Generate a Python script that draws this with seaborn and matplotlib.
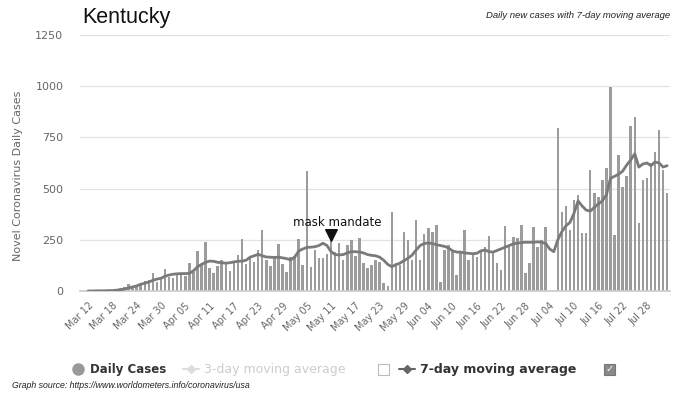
import matplotlib
matplotlib.use("Agg")
import matplotlib.pyplot as plt
from matplotlib.lines import Line2D
from matplotlib.patches import Rectangle
import pandas as pd
import seaborn as sns

# --- Data: Kentucky daily new cases, Mar 12 .. Aug 02 2020 ---
START_DATE = "2020-03-12"
END_DATE = "2020-08-02"

DAILY_CASES = [
    0, 1, 0, 2, 1, 3, 5, 10, 14, 20,
    36, 22, 28, 35, 48, 52, 89, 45, 58, 106,
    70, 62, 84, 90, 72, 138, 95, 195, 130, 241,
    110, 88, 120, 150, 130, 100, 140, 175, 252, 130,
    160, 140, 200, 296, 150, 120, 170, 231, 130, 95,
    165, 170, 252, 127, 585, 119, 200, 160, 160, 180,
    249, 192, 233, 151, 225, 249, 170, 257, 135, 111,
    127, 151, 143, 40, 25, 387, 135, 127, 290, 249,
    151, 347, 151, 280, 306, 290, 322, 45, 200, 225,
    192, 78, 184, 298, 150, 184, 168, 200, 216, 268,
    184, 135, 103, 317, 225, 265, 257, 322, 86, 135,
    314, 216, 249, 314, 0, 0, 794, 387, 415, 298,
    444, 469, 285, 281, 590, 477, 460, 542, 599, 997,
    273, 664, 509, 560, 805, 851, 330, 542, 550, 623,
    680, 786, 590, 477,
]

MOVING_AVG_7 = [
    0, 0, 1, 1, 1, 2, 2, 4, 6, 10,
    15, 20, 25, 33, 38, 44, 52, 58, 62, 72,
    78, 82, 84, 85, 85, 86, 98, 118, 130, 140,
    146, 145, 140, 138, 136, 138, 142, 145, 146, 150,
    165, 172, 179, 172, 166, 165, 164, 165, 162, 158,
    152, 165, 195, 205, 213, 214, 216, 222, 233, 222,
    192, 178, 176, 178, 186, 192, 192, 190, 186, 178,
    174, 172, 165, 150, 130, 119, 128, 136, 148, 160,
    175, 200, 222, 232, 234, 232, 226, 222, 218, 210,
    196, 190, 190, 186, 184, 182, 184, 196, 200, 192,
    190, 198, 206, 214, 222, 230, 234, 236, 238, 238,
    238, 240, 238, 232, 205, 192, 250, 290, 318, 335,
    380, 440, 415, 395, 390, 408, 425, 440, 470, 550,
    560, 570, 585, 615, 640, 670, 605, 620, 625, 612,
    630, 625, 605, 612,
]

TICK_STEP = 6
TICK_LABELS = [
    "Mar 12", "Mar 18", "Mar 24", "Mar 30", "Apr 05", "Apr 11", "Apr 17", "Apr 23",
    "Apr 29", "May 05", "May 11", "May 17", "May 23", "May 29", "Jun 04", "Jun 10",
    "Jun 16", "Jun 22", "Jun 28", "Jul 04", "Jul 10", "Jul 16", "Jul 22", "Jul 28",
]
Y_TICKS = [0, 250, 500, 750, 1000, 1250]

MASK_MANDATE_DATE = "2020-05-11"
MASK_MANDATE_LEVEL = 273

# --- Styling ---
BAR_COLOR = "#9c9c9c"
LINE_COLOR = "#7a7a7a"
TICK_COLOR = "#666666"
NARROW = ["Liberation Sans Narrow", "Liberation Sans", "DejaVu Sans"]

sns.set_theme(style="white")
plt.rcParams["font.family"] = ["DejaVu Sans"]

dates = pd.date_range(START_DATE, END_DATE, freq="D")
df = pd.DataFrame({
    "day": range(len(dates)),
    "cases": DAILY_CASES,
    "avg7": MOVING_AVG_7,
})
mask_day = (pd.Timestamp(MASK_MANDATE_DATE) - dates[0]).days

fig = plt.figure(figsize=(6.84, 4.01), dpi=100)
ax = fig.add_axes([80 / 684, 1 - 291 / 401, 590 / 684, 256 / 401])

sns.barplot(data=df, x="day", y="cases", color=BAR_COLOR, saturation=1,
            width=0.62, errorbar=None, ax=ax, zorder=2, linewidth=0)
sns.lineplot(data=df, x="day", y="avg7", color=LINE_COLOR, lw=2, ax=ax, zorder=3)

# mask mandate marker
ax.scatter([mask_day], [MASK_MANDATE_LEVEL], marker="v", s=70, color="#111111", zorder=4)
ax.text(mask_day + 1.5, MASK_MANDATE_LEVEL + 62, "mask mandate", ha="center", va="center",
        fontsize=8.5, color="#111111", zorder=5)

ax.set_xlim(-2.0, len(dates) - 0.3)
ax.set_ylim(0, 1250)
ax.set_yticks(Y_TICKS)
ax.set_yticklabels([str(v) for v in Y_TICKS], fontsize=8, color=TICK_COLOR)
ax.set_xticks(list(range(0, TICK_STEP * len(TICK_LABELS), TICK_STEP)))
ax.set_xticklabels(TICK_LABELS, rotation=45, ha="right", rotation_mode="anchor",
                   fontsize=7, color=TICK_COLOR)
ax.tick_params(axis="both", length=0)
ax.tick_params(axis="y", pad=12)
ax.tick_params(axis="x", pad=7)
ax.yaxis.grid(True, color="#e3e3e3", lw=0.9)
ax.xaxis.grid(False)
ax.set_axisbelow(True)
for side in ("left", "right", "top"):
    ax.spines[side].set_visible(False)
ax.spines["bottom"].set_color("#cccccc")
ax.set_xlabel("")
ax.set_ylabel("Novel Coronavirus Daily Cases", fontsize=8, color=TICK_COLOR)
ax.yaxis.set_label_coords(-0.096, 0.45)

# --- Title and subtitle ---
fig.text(82 / 684, 1 - 18 / 401, "Kentucky", fontsize=15.5, va="center", ha="left",
         color="#111111", family=NARROW)
fig.text(670 / 684, 1 - 15 / 401, "Daily new cases with 7-day moving average",
         fontsize=6.8, style="italic", va="center", ha="right", color="#222222", family=NARROW)

# --- Legend drawn like the Highcharts one ---
ly = 1 - 369 / 401
tf = fig.transFigure
fig.add_artist(Line2D([78 / 684], [ly], marker="o", markersize=8, color="#999999",
                      transform=tf))
fig.text(90 / 684, ly, "Daily Cases", fontsize=8.5, fontweight="bold", color="#333333",
         va="center")
fig.add_artist(Line2D([183 / 684, 199 / 684], [ly, ly], lw=1.5, color="#dddddd",
                      transform=tf))
fig.add_artist(Line2D([191 / 684], [ly], marker="D", markersize=4, color="#dddddd",
                      transform=tf))
fig.text(204 / 684, ly, "3-day moving average", fontsize=9, color="#cccccc", va="center")
fig.add_artist(Rectangle((378 / 684, 1 - 375 / 401), 11 / 684, 11 / 401, transform=tf,
                         facecolor="white", edgecolor="#bbbbbb", lw=0.8))
fig.add_artist(Line2D([399 / 684, 415 / 684], [ly, ly], lw=1.5, color="#666666",
                      transform=tf))
fig.add_artist(Line2D([407 / 684], [ly], marker="D", markersize=4, color="#666666",
                      transform=tf))
fig.text(420 / 684, ly, "7-day moving average", fontsize=9, fontweight="bold",
         color="#333333", va="center")
fig.add_artist(Rectangle((604 / 684, 1 - 375 / 401), 11 / 684, 11 / 401, transform=tf,
                         facecolor="#8a8a8a", edgecolor="#777777", lw=0.8))
fig.text(609.5 / 684, ly, "\u2713", fontsize=7, color="white", ha="center", va="center")

fig.text(12 / 684, 1 - 386 / 401,
         "Graph source: https://www.worldometers.info/coronavirus/usa",
         fontsize=6.3, style="italic", color="#222222", va="center", family=NARROW)

fig.savefig("out.png", dpi=100)
